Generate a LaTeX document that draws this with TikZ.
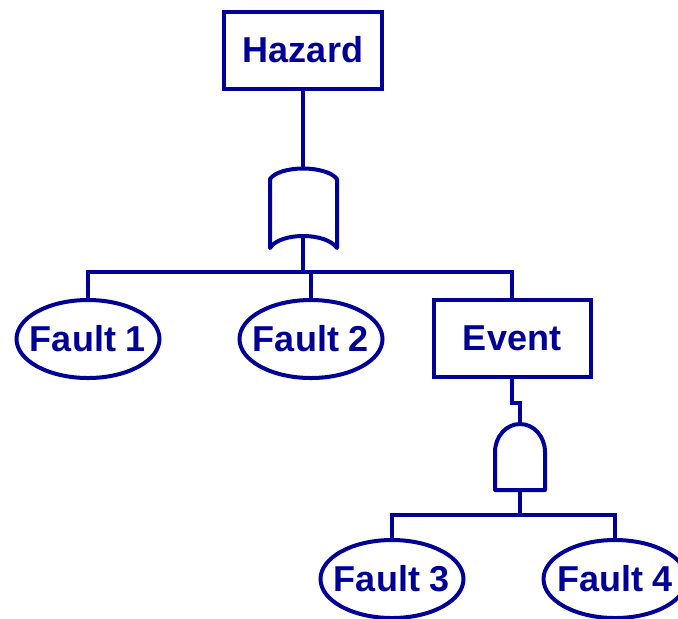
\documentclass[tikz,border=0pt]{standalone}
\usepackage{fontspec}
\setmainfont{Liberation Sans}
\usepackage{xcolor}
\usepackage{tikz}
\usetikzlibrary{shapes.geometric,calc}

\definecolor{ftblue}{RGB}{0,0,150}

\begin{document}
\begin{tikzpicture}[
  x=0.5pt, y=-0.5pt,
  font=\fontsize{18}{20}\selectfont\bfseries,
  evt/.style={
    rectangle, draw=ftblue, line width=2pt, text=ftblue,
    minimum width=79pt, minimum height=38.5pt, inner sep=0pt
  },
  flt/.style={
    ellipse, draw=ftblue, line width=2pt, text=ftblue,
    minimum width=71.5pt, minimum height=39pt, inner xsep=-4pt, inner ysep=0pt
  },
  gate/.style={draw=ftblue, line width=2pt, line join=round},
  wire/.style={draw=ftblue, line width=1.6pt}
]
\useasboundingbox (0,0) rectangle (678,618);

% top event
\node[evt] (hazard) at (303,50) {Hazard};

% OR gate under the hazard
\coordinate (ortop) at (303,168);
\coordinate (orbot) at (303,235);
\draw[gate] (270,248) -- (270,179)
  .. controls (280,165) and (326,165) .. (337,179) -- (337,248)
  .. controls (326,232) and (280,232) .. cycle;

% first level
\node[flt] (f1) at (88,339) {Fault 1};
\node[flt] (f2) at (311,339) {Fault 2};
\node[evt, minimum width=78.5pt] (event) at (512,338) {Event};
\coordinate (bus1) at (303,272);

% AND gate under the event
\coordinate (jog) at (512,403);
\coordinate (andtop) at (520,424);
\coordinate (andbot) at (520,490);
\draw[gate] (495,490) -- (495,452) arc[start angle=180, end angle=360,
  x radius=25, y radius=28] -- (545,490) -- cycle;

% second level
\node[flt] (f3) at (392,579) {Fault 3};
\node[flt] (f4) at (615,579) {Fault 4};
\coordinate (bus2) at (520,515);

% connectors
\draw[wire] (hazard.south) -- (ortop);
\draw[wire] (orbot) -- (bus1);
\draw[wire] (f1.north) |- (bus1) -| (event.north);
\draw[wire] (f2.north) -- (f2.north |- bus1);
\draw[wire] (event.south) -- (jog) -| (andtop);
\draw[wire] (andbot) -- (bus2);
\draw[wire] (f3.north) |- (bus2) -| (f4.north);
\end{tikzpicture}
\end{document}
